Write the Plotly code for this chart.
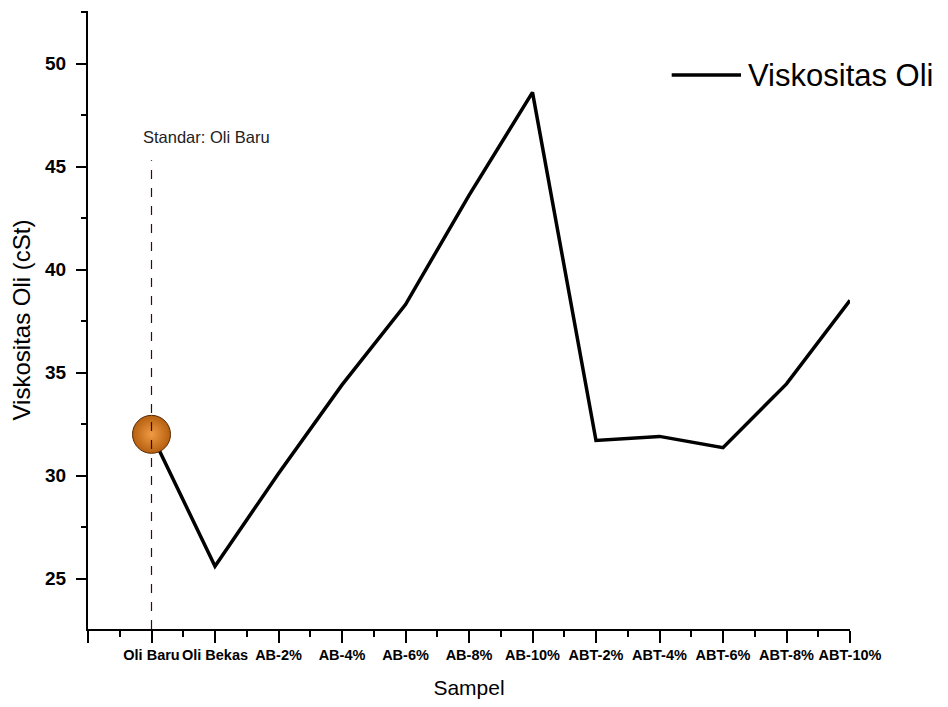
import plotly.graph_objects as go

# Sample names and measured viscosity (cSt)
samples = ["Oli Baru", "Oli Bekas", "AB-2%", "AB-4%", "AB-6%", "AB-8%",
           "AB-10%", "ABT-2%", "ABT-4%", "ABT-6%", "ABT-8%", "ABT-10%"]
viscosity = [32.0, 25.6, 30.1, 34.4, 38.3, 43.6, 48.6, 31.7, 31.9, 31.35, 34.45, 38.5]

# Reference sample highlighted with a marker and dashed guide
standard_sample = "Oli Baru"
standard_label = "Standar: Oli Baru"
guide_top = 45.3

y_ticks = [25, 30, 35, 40, 45, 50]
y_range = [22.55, 52.55]

x_pos = list(range(len(samples)))
std_idx = samples.index(standard_sample)

FONT = "Arial, Liberation Sans"

fig = go.Figure()

fig.add_trace(go.Scatter(
    x=x_pos, y=viscosity, mode="lines", name="Viskositas Oli",
    line=dict(color="black", width=3.5), showlegend=False,
))

fig.add_trace(go.Scatter(
    x=[x_pos[std_idx]], y=[viscosity[std_idx]], mode="markers",
    marker=dict(size=38, color="#b4600f",
                gradient=dict(type="radial", color="#f29a45"),
                line=dict(color="#5a2a08", width=1)),
    showlegend=False,
))

# dashed guide at the reference sample, drawn over the marker
fig.add_shape(type="line", xref="x", yref="y",
              x0=x_pos[std_idx], x1=x_pos[std_idx], y0=y_range[0], y1=guide_top,
              line=dict(color="#2a1208", width=1.2, dash="dash"), layer="above")
fig.add_annotation(x=x_pos[std_idx] + 0.86, y=46.45, xref="x", yref="y",
                   text=standard_label, showarrow=False,
                   font=dict(family=FONT, size=16.5, color="#222"))

# legend key
fig.add_shape(type="line", xref="paper", yref="paper",
              x0=0.766, x1=0.857, y0=0.8964, y1=0.8964,
              line=dict(color="black", width=3.5))
fig.add_annotation(x=0.863, y=0.8964, xref="paper", yref="paper",
                   xanchor="left", yanchor="middle", text="Viskositas Oli",
                   showarrow=False,
                   font=dict(family=FONT, size=31, color="black"))

minor_x = [i - 0.5 for i in range(0, len(samples) + 1)]

fig.update_layout(
    width=948, height=707,
    margin=dict(l=88, r=98, t=11, b=78),
    paper_bgcolor="white", plot_bgcolor="white",
    showlegend=False,
    font=dict(family=FONT, color="black"),
    xaxis=dict(
        range=[-1, len(samples) - 1],
        tickmode="array", tickvals=[-1] + x_pos, ticktext=[""] + samples,
        tickangle=0,
        ticks="outside", ticklen=12, tickwidth=2, tickcolor="black",
        tickfont=dict(family=FONT, size=14.5, color="black", weight="bold"),
        showline=True, linecolor="black", linewidth=2,
        showgrid=False, zeroline=False,
        minor=dict(tickmode="array", tickvals=minor_x, ticks="outside",
                   ticklen=6, tickwidth=2, tickcolor="black"),
        title=dict(text="Sampel", font=dict(size=21), standoff=18),
    ),
    yaxis=dict(
        range=y_range,
        tickmode="array", tickvals=y_ticks,
        ticks="outside", ticklen=10, tickwidth=2, tickcolor="black",
        tickfont=dict(family=FONT, size=19, color="black", weight="bold"),
        ticklabelstandoff=6,
        showline=True, linecolor="black", linewidth=2,
        showgrid=False, zeroline=False,
        minor=dict(tickmode="array", tickvals=[t + 2.5 for t in [20] + y_ticks],
                   ticks="outside", ticklen=5, tickwidth=2, tickcolor="black"),
        title=dict(text="Viskositas Oli (cSt)", font=dict(size=24), standoff=8),
    ),
)

fig.write_html("out.html")
